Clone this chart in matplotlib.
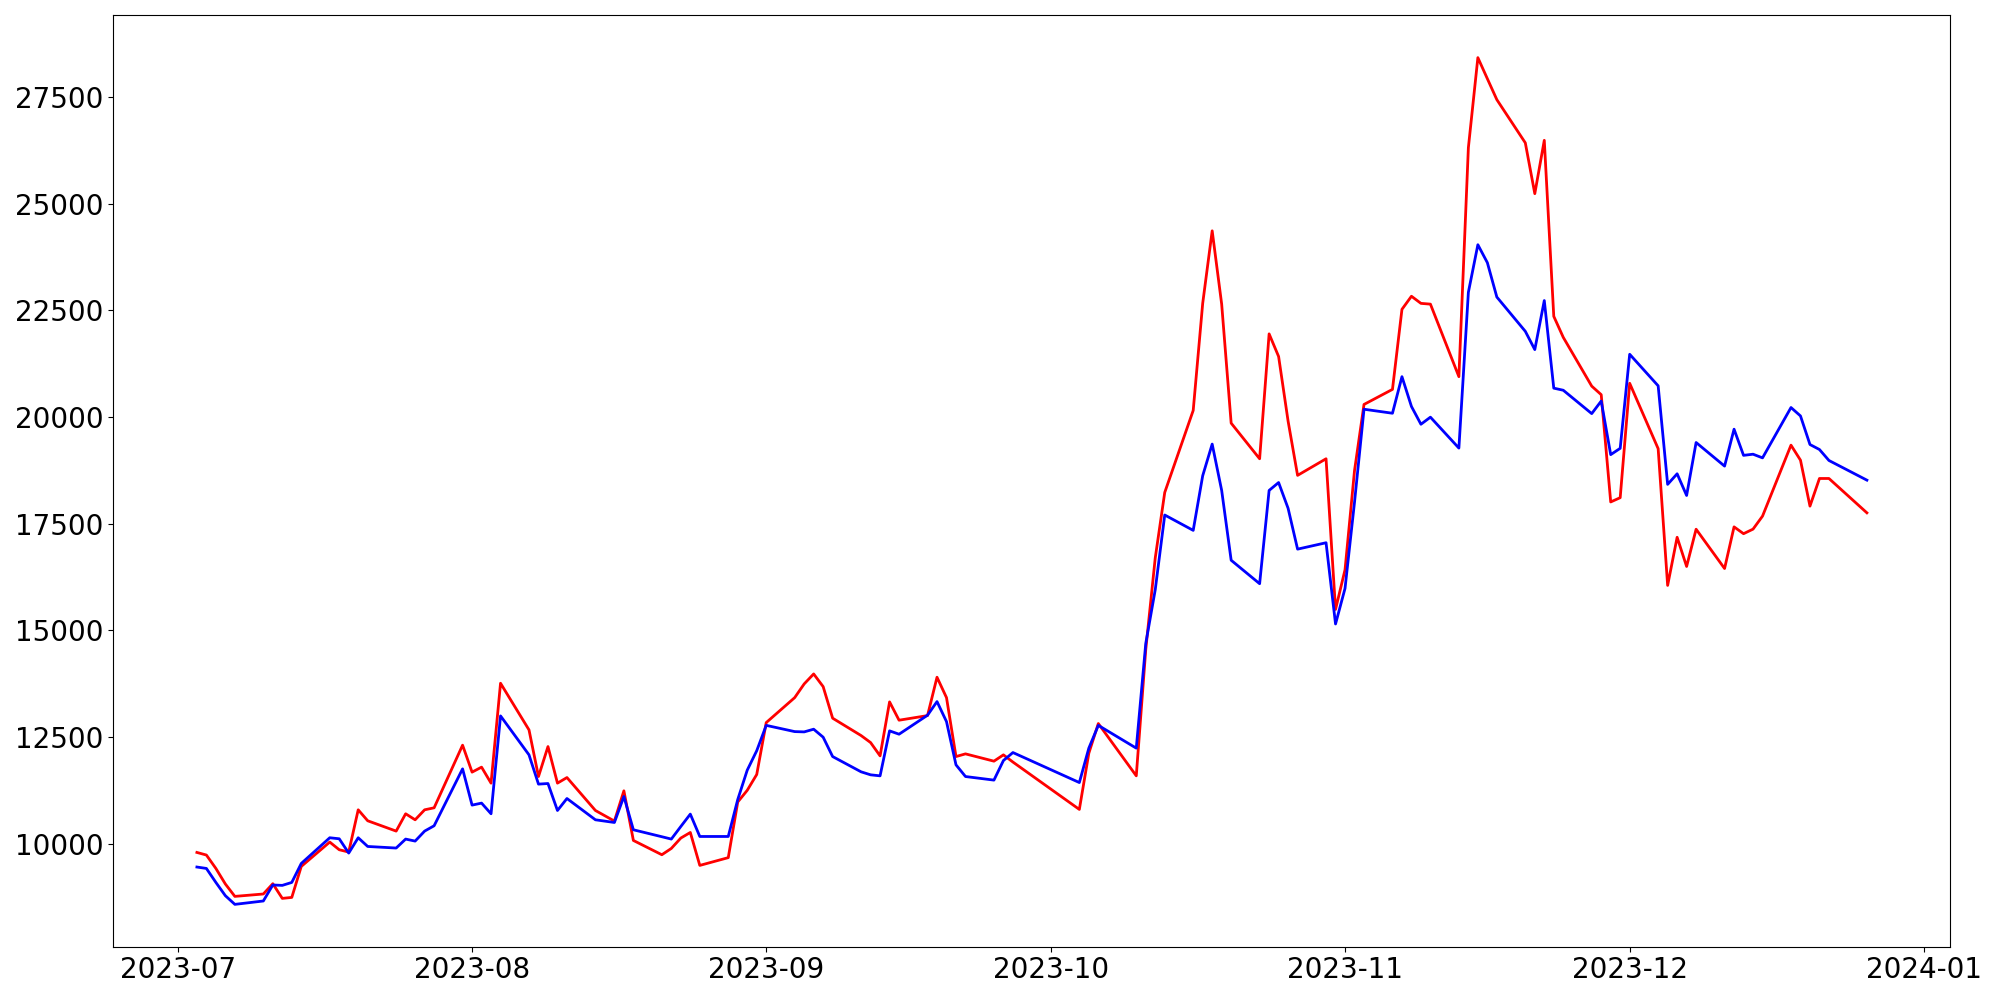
"""Two price series, Jul-Dec 2023 (KRX trading days)"""

import matplotlib
matplotlib.use("Agg")
import matplotlib.pyplot as plt
import pandas as pd

# trading days: weekdays minus the KRX holidays in this span
holidays = ['2023-08-15', '2023-09-28', '2023-09-29', '2023-10-02',
            '2023-10-03', '2023-10-09', '2023-12-25']
dates = pd.bdate_range('2023-07-03', '2023-12-26', freq='C', holidays=holidays)

# values, month by month
red_jul = [9792, 9731, 9417, 9052, 8762, 8818, 9059, 8715, 8738, 9464, 10035,
           9855, 9801, 10791, 10534, 10292, 10698, 10557, 10791, 10838, 12306]
red_aug = [11674, 11791, 11416, 13757, 12664, 11571, 12273, 11416, 11547, 10775, 10527,
           11236, 10073, 9738, 9886, 10129, 10260, 9488, 9670, 10974, 11248, 11619]
red_sep = [12835, 13420, 13741, 13975, 13678, 12938, 12531, 12367, 12055, 13320,
           12891, 12999, 13898, 13420, 12039, 12102, 11931, 12079, 11910]
red_oct = [10800, 12118, 12813, 11587, 14550, 16695, 18229, 20151, 22660, 24360,
           22642, 19853, 19018, 21945, 21415, 19900, 18629, 19018, 15487]
red_nov = [16417, 18740, 20291, 20644, 22520, 22827, 22660, 22642, 20942, 26310, 28419,
           27925, 27434, 26422, 25231, 26481, 22356, 21864, 20720, 20520, 18006, 18106]
red_dec = [20787, 19255, 16050, 17178, 16494, 17367, 16446, 17422, 17262, 17369,
           17674, 19337, 18985, 17908, 18556, 18556, 17751]

blue_jul = [9450, 9417, 9089, 8778, 8575, 8654, 9029, 9020, 9089, 9534, 10136,
            10112, 9777, 10136, 9932, 9895, 10105, 10058, 10292, 10417, 11751]
blue_aug = [10901, 10948, 10698, 12992, 12079, 11393, 11407, 10775, 11056, 10557, 10494,
            11103, 10323, 10160, 10105, 10400, 10690, 10166, 10166, 11033, 11720, 12176]
blue_sep = [12770, 12624, 12617, 12680, 12493, 12039, 11681, 11611, 11587, 12641,
            12563, 13008, 13327, 12858, 11845, 11571, 11487, 11946, 12133]
blue_oct = [11430, 12236, 12770, 12236, 14690, 15950, 17700, 17340, 18620, 19362,
            18276, 16640, 16090, 18276, 18461, 17857, 16900, 17050, 15146]
blue_nov = [15980, 18000, 20179, 20085, 20942, 20244, 19827, 19993, 19268, 22920, 24034,
            23614, 22808, 22005, 21577, 22726, 20673, 20624, 20076, 20371, 19115, 19263]
blue_dec = [21467, 20728, 18418, 18666, 18158, 19399, 18846, 19711, 19098, 19125,
            19039, 20219, 20022, 19352, 19235, 18978, 18517]

red = red_jul + red_aug + red_sep + red_oct + red_nov + red_dec
blue = blue_jul + blue_aug + blue_sep + blue_oct + blue_nov + blue_dec

fig = plt.figure(figsize=(20, 10), dpi=100)
ax = fig.add_axes([0.0567, 0.0533, 0.9185, 0.9314])

ax.plot(dates, red, color='red', linewidth=2)
ax.plot(dates, blue, color='blue', linewidth=2)

ax.tick_params(axis='both', labelsize=20)

fig.savefig('out.png', dpi=100)
